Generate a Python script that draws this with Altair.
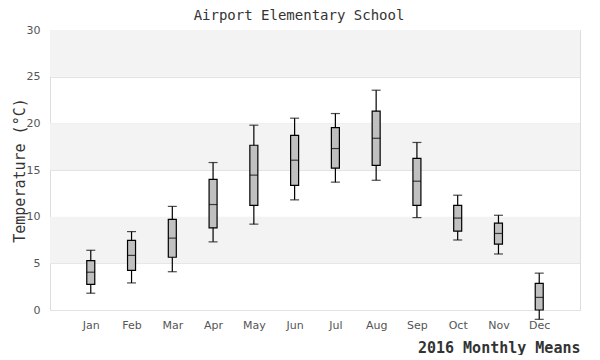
import altair as alt
import pandas as pd

chart_title = ["Airport Elementary School"]
months = ["Jan", "Feb", "Mar", "Apr", "May", "Jun", "Jul", "Aug", "Sep", "Oct", "Nov", "Dec"]
whisker_low = [1.8, 2.9, 4.1, 7.3, 9.2, 11.8, 13.7, 13.9, 9.9, 7.5, 6.0, -1.0]
q1 = [2.75, 4.25, 5.65, 8.8, 11.2, 13.35, 15.2, 15.5, 11.2, 8.45, 7.05, 0.0]
median = [4.05, 5.85, 7.7, 11.3, 14.45, 16.05, 17.3, 18.4, 13.8, 9.85, 8.2, 1.35]
q3 = [5.3, 7.45, 9.7, 14.0, 17.65, 18.7, 19.55, 21.3, 16.25, 11.2, 9.3, 2.85]
whisker_high = [6.4, 8.4, 11.1, 15.8, 19.8, 20.55, 21.05, 23.55, 17.95, 12.3, 10.15, 3.95]

band_lo = [5, 15, 25]
band_hi = [10, 20, 30]
y_ticks = [0, 5, 10, 15, 20, 25, 30]

df = pd.DataFrame({"month": months, "lo": whisker_low, "q1": q1, "med": median,
                   "q3": q3, "hi": whisker_high})
bands = pd.DataFrame({"b0": band_lo, "b1": band_hi})
titles = pd.DataFrame({"t": chart_title})

mono = "DejaVu Sans Mono"
sans = "DejaVu Sans"

yscale = alt.Scale(domain=[0, 30], nice=False, zero=False)
xscale = alt.Scale(type="point", padding=1, domain=months)

yaxis = alt.Axis(
    title="Temperature (°C)", values=y_ticks, grid=True, gridColor="#e3e3e3",
    ticks=False, domain=False, labelFont=sans, labelFontSize=11,
    labelColor="#555555", labelPadding=10, titleFont=mono, titleFontSize=15,
    titleFontWeight="normal", titleColor="#333333", titleX=-23)

xaxis = alt.Axis(
    title="2016 Monthly Means", labelAngle=0, ticks=False, domain=False, grid=False,
    labelFont=sans, labelFontSize=11, labelColor="#555555", labelPadding=9,
    titleFont=mono, titleFontSize=15, titleFontWeight="bold", titleColor="#333333",
    titleAnchor="end", titleAlign="right", titlePadding=10)


def Y(field):
    return alt.Y(field, scale=yscale, axis=yaxis, title="Temperature (°C)")


X = alt.X("month:N", scale=xscale, sort=months, axis=xaxis, title="2016 Monthly Means")

band_layer = alt.Chart(bands).mark_rect(color="#f3f3f3").encode(
    y=Y("b0:Q"), y2="b1:Q")

base = alt.Chart(df)
whisk = base.mark_rule(color="black", strokeWidth=1.2).encode(
    x=X, y=Y("lo:Q"), y2="hi:Q")
box = base.mark_bar(size=8, fill="#c0c0c0", stroke="black", strokeWidth=1.2).encode(
    x=X, y=Y("q1:Q"), y2="q3:Q")
med = base.mark_tick(color="black", size=8, thickness=1.2).encode(
    x=X, y=Y("med:Q"))
cap_lo = base.mark_tick(color="black", size=9, thickness=1.2).encode(
    x=X, y=Y("lo:Q"))
cap_hi = base.mark_tick(color="black", size=9, thickness=1.2).encode(
    x=X, y=Y("hi:Q"))

title_layer = alt.Chart(titles).mark_text(
    font=mono, fontSize=14, color="#333333", align="center", baseline="alphabetic"
).encode(x=alt.value(249), y=alt.value(-10), text="t:N")

chart = alt.layer(band_layer, whisk, box, med, cap_lo, cap_hi, title_layer).properties(
    width=530, height=280,
    autosize=alt.AutoSizeParams(type="none"),
    padding={"left": 42, "top": 22, "right": 12, "bottom": 45},
).configure_view(stroke="#dddddd", strokeWidth=1)

chart.save("out.html", embed_options={"renderer": "svg", "actions": False})
